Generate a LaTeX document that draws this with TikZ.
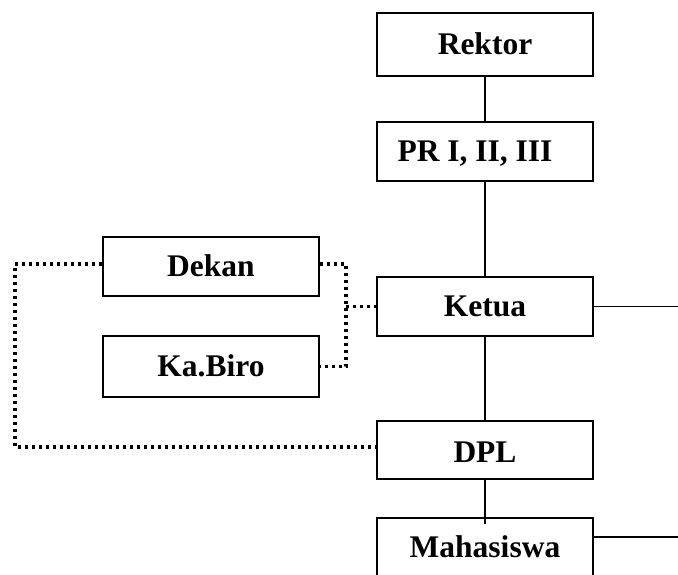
\documentclass[tikz,border=0pt]{standalone}
\usepackage{fontspec}
\setmainfont{Liberation Serif}
\begin{document}
\begin{tikzpicture}[x=1pt,y=-1pt,
  box/.style={draw,line width=1.8pt,inner sep=0pt,font=\fontsize{31.5}{36}\selectfont\bfseries,text height=20.85pt,text depth=0pt},
  conn/.style={line width=1.8pt},
  dotline/.style={line width=3.2pt,dash pattern=on 3pt off 4pt}]
\useasboundingbox (0,0) rectangle (678,574);
\clip (0,0) rectangle (678,574);
\node[box,minimum width=216pt,minimum height=63pt] (rektor) at (485,44.5) {Rektor};
\node[box,minimum width=216pt,minimum height=59pt] (pr) at (485,151.5) {\hspace*{-20pt}PR I, II, III};
\node[box,minimum width=216pt,minimum height=59pt] (ketua) at (485,306.5) {Ketua};
\node[box,minimum width=216pt,minimum height=58pt] (dpl) at (485,450) {\raisebox{-2pt}{DPL}};
\node[box,minimum width=216pt,minimum height=58pt] (mhs) at (485,547) {Mahasiswa};
\node[box,minimum width=216pt,minimum height=59pt] (dekan) at (211,266.5) {Dekan};
\node[box,minimum width=216pt,minimum height=61pt] (kabiro) at (211,366.5) {Ka.Biro};
\coordinate (kr) at (678,306.5);
\coordinate (mr) at (678,537);
\coordinate (lft) at (15,264);
\coordinate (jr) at (346,264);
\draw[conn] (rektor.south) -- (pr.north);
\draw[conn] (pr.south) -- (ketua.north);
\draw[conn] (ketua.south) -- (dpl.north);
\draw[conn] (dpl.south) -- ([yshift=-7pt]mhs.north);
\draw[conn] (ketua.east) -- (kr);
\draw[conn] ([yshift=10pt]mhs.east) -- (mr);
\draw[dotline] ([yshift=2.5pt]dekan.west) -- (lft) -- (15,447) -- ([yshift=3pt]dpl.west);
\draw[dotline] ([yshift=2.5pt]dekan.east) -- (jr) |- (kabiro.east);
\draw[dotline] (346,306.5) -- (ketua.west);
\end{tikzpicture}
\end{document}
